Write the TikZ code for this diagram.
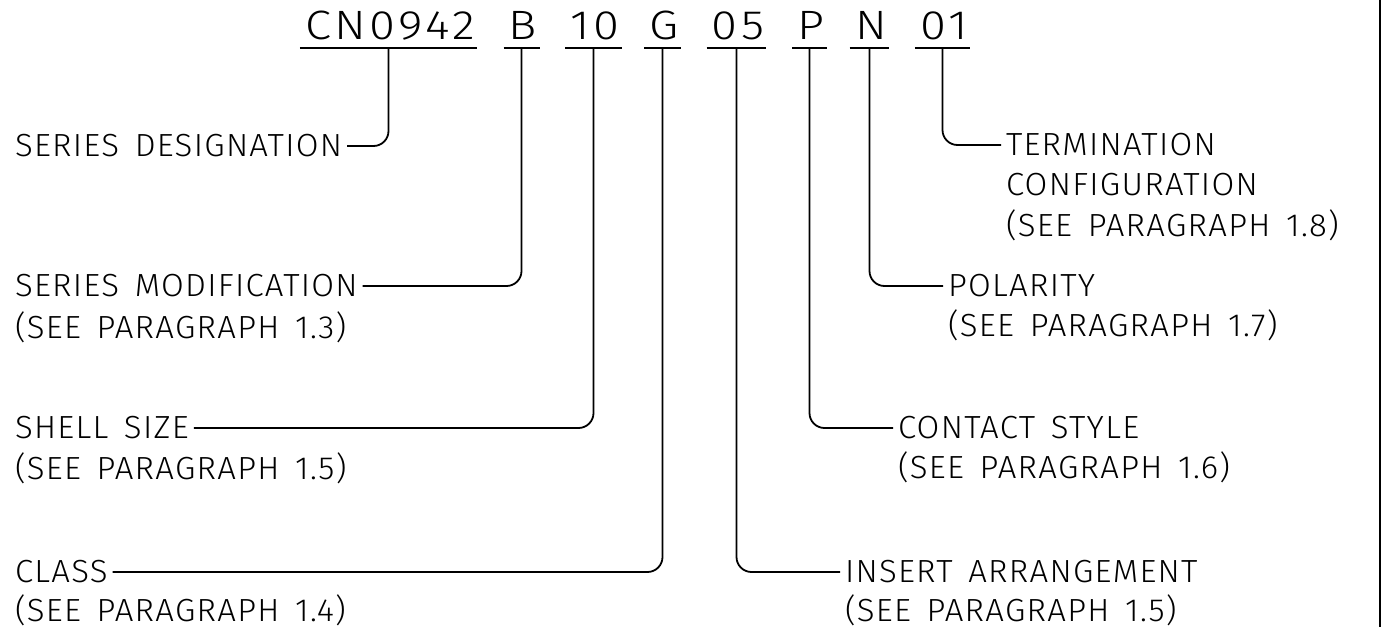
\documentclass[tikz,border=0pt]{standalone}
\usepackage{fontspec}
\usetikzlibrary{calc}
\setmainfont{Fira Sans}[UprightFont={* Light}]
\newfontfamily\cadfont{Fira Sans}[UprightFont={* Light}, FakeStretch=1.03, LetterSpace=4, WordSpace=1.5]
\newfontfamily\cadtokfont{Fira Sans}[UprightFont={* Light}, FakeStretch=1.15, LetterSpace=8]
\tikzset{
  lbl/.style={font=\cadfont\fontsize{16}{18}\selectfont, inner sep=0pt, outer sep=2.5pt, anchor=west},
  tok/.style={font=\cadtokfont\fontsize{20.5}{24}\selectfont, inner sep=0pt, anchor=base},
  uline/.style={line width=0.9pt},
  leader/.style={line width=0.9pt, rounded corners=7.5pt},
}
\begin{document}
\begin{tikzpicture}[x=0.5pt,y=-0.5pt]
\useasboundingbox (0,0) rectangle (1382,627);
\draw[line width=1pt] (1380,0) -- (1380,627);
% top tokens
\node[tok] (t1) at (390,39) {CN0942};
\node[tok] (t2) at (523,39) {B};
\node[tok] (t3) at (595,39) {10};
\node[tok] (t4) at (664,39) {G};
\node[tok] (t5) at (738,39) {05};
\node[tok] (t6) at (811,39) {P};
\node[tok] (t7) at (871,39) {N};
\node[tok] (t8) at (944,39) {01};
\foreach \t in {t1,t2,t3,t4,t5,t6,t7,t8}{
  \draw[uline] ([xshift=-2.5pt,yshift=-4.5pt]\t.base west) coordinate (\t w) -- ([xshift=1pt,yshift=-4.5pt]\t.base east) coordinate (\t e);
  \coordinate (\t s) at ($(\t w)!0.5!(\t e)$);
}
% left labels
\node[lbl] (l1) at (10,146) {SERIES DESIGNATION};
\node[lbl] (l2) at (10,286) {SERIES MODIFICATION};
\node[lbl] (l2b) at (10,327) {(SEE PARAGRAPH 1.3)};
\node[lbl] (l3) at (10,428) {SHELL SIZE};
\node[lbl] (l3b) at (10,468) {(SEE PARAGRAPH 1.5)};
\node[lbl] (l4) at (10,572) {CLASS};
\node[lbl] (l4b) at (10,610) {(SEE PARAGRAPH 1.4)};
% right labels
\node[lbl] (r8) at (1001,145) {TERMINATION};
\node[lbl] (r8b) at (1001,185) {CONFIGURATION};
\node[lbl] (r8c) at (1001,225) {(SEE PARAGRAPH 1.8)};
\node[lbl] (r7) at (943,286) {POLARITY};
\node[lbl] (r7b) at (943,325) {(SEE PARAGRAPH 1.7)};
\node[lbl] (r6) at (893,428) {CONTACT STYLE};
\node[lbl] (r6b) at (893,467) {(SEE PARAGRAPH 1.6)};
\node[lbl] (r5) at (840,572) {INSERT ARRANGEMENT};
\node[lbl] (r5b) at (840,610) {(SEE PARAGRAPH 1.5)};
% leaders
\draw[leader] (t1s) -- (t1s |- l1.east) -- (l1.east);
\draw[leader] (t2s) -- (t2s |- l2.east) -- (l2.east);
\draw[leader] (t3s) -- (t3s |- l3.east) -- (l3.east);
\draw[leader] (t4s) -- (t4s |- l4.east) -- (l4.east);
\draw[leader] (t5s) -- (t5s |- r5.west) -- (r5.west);
\draw[leader] (t6s) -- (t6s |- r6.west) -- (r6.west);
\draw[leader] (t7s) -- (t7s |- r7.west) -- (r7.west);
\draw[leader] (t8s) -- (t8s |- r8.west) -- (r8.west);
\end{tikzpicture}
\end{document}
